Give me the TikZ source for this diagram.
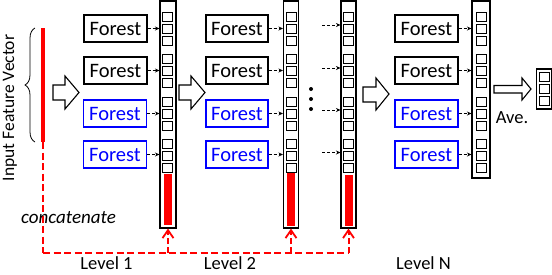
\documentclass[tikz,border=0pt]{standalone}
\usepackage{fontspec}
\setmainfont{Carlito}
\usetikzlibrary{arrows.meta,decorations.pathreplacing,calc}
\begin{document}
\begin{tikzpicture}[x=1pt,y=-1pt,
  forestbox/.style={draw, line width=1.1pt, minimum width=63pt, minimum height=27pt, inner sep=0pt, font=\fontsize{20.5}{22}\selectfont},
  bforest/.style={forestbox, draw=blue, text=blue},
  vecbox/.style={draw, line width=1.1pt, inner sep=0pt, fill=white},
  sq/.style={line width=1pt},
  darr/.style={dash pattern=on 3pt off 2pt, line width=0.8pt, -{Stealth[length=4.5pt,width=4pt]}},
  hollow/.style={draw, line width=1.1pt, fill=white, line join=miter},
  reddash/.style={red, line width=2.8pt, dash pattern=on 7pt off 3.5pt},
  redup/.style={red, line width=2pt, dash pattern=on 6pt off 3pt, -{Straight Barb[length=8pt,width=11pt,line width=1.8pt]}},
  lbl/.style={font=\fontsize{18.5}{20}\selectfont, anchor=base, inner sep=0pt}
]
\useasboundingbox (0,0) rectangle (552,274);

% input feature vector
\node[fill=red, minimum width=4pt, minimum height=114pt, inner sep=0pt] (inbar) at (43,85) {};
\draw[line width=0.8pt, decorate, decoration={brace, amplitude=10pt}] (35,142) -- (35,28);
\node[rotate=90, font=\fontsize{17.5}{20}\selectfont, inner sep=0pt] (ifv) at (10,108) {Input Feature Vector};

% hollow arrows
\draw[hollow] (53,85) -- (65,85) -- (65,76) -- (79,92.5) -- (65,109) -- (65,100) -- (53,100) -- cycle;
\draw[hollow] (179,85) -- (191,85) -- (191,76) -- (205,92.5) -- (191,109) -- (191,100) -- (179,100) -- cycle;
\draw[hollow] (363,87) -- (376,87) -- (376,78) -- (389,94) -- (376,110) -- (376,102) -- (363,102) -- cycle;
\draw[hollow] (494,85.5) -- (522,85.5) -- (522,78) -- (531,89) -- (522,100) -- (522,93) -- (494,93) -- cycle;

% forests level 1
\node[forestbox] (f11) at (115.5,28.5) {Forest};
\node[forestbox] (f12) at (115.5,70.5) {Forest};
\node[bforest] (f13) at (115,113.5) {Forest};
\node[bforest] (f14) at (115,154.5) {Forest};
% forests level 2
\node[forestbox, minimum width=62pt] (f21) at (237,28.5) {Forest};
\node[forestbox, minimum width=62pt] (f22) at (237,70.5) {Forest};
\node[bforest, minimum width=62pt] (f23) at (237,113.5) {Forest};
\node[bforest, minimum width=62pt] (f24) at (237,154.5) {Forest};
% forests level N
\node[forestbox] (fN1) at (426.5,28.5) {Forest};
\node[forestbox] (fN2) at (426.5,70.5) {Forest};
\node[bforest] (fN3) at (426.5,113.5) {Forest};
\node[bforest] (fN4) at (426.5,154.5) {Forest};

% class vectors
\node[vecbox, minimum width=16pt, minimum height=227pt] (v1) at (168,114.5) {};
\node[vecbox, minimum width=15pt, minimum height=227pt] (v2) at (291,114.5) {};
\node[vecbox, minimum width=15pt, minimum height=227pt] (v3) at (348.5,114.5) {};
\node[vecbox, minimum width=18pt, minimum height=177pt] (vN) at (481,89.5) {};
\node[vecbox, minimum width=15pt, minimum height=40pt] (vout) at (544,89) {};

\foreach \t in {12,24,36,54,66,78,97,109,121,139,151,163}{
  \draw[sq] (162.5,\t) rectangle ++(10,9.5);
  \draw[sq] (286,\t) rectangle ++(10,9.5);
  \draw[sq] (343.5,\t) rectangle ++(10,9.5);
  \draw[sq] (476,\t) rectangle ++(10.5,9.5);
}
\foreach \t in {72,84,96}{
  \draw[sq] (539.5,\t) rectangle ++(10,9.5);
}

% red bars (concatenated input)
\fill[red] (164,174) rectangle (172,225);
\fill[red] (287,173) rectangle (295,226);
\fill[red] (345,175) rectangle (353,226);

% dashed arrows forests -> vectors
\foreach \i in {1,2,3,4}{
  \draw[darr] (f1\i.east) -- (f1\i.east -| v1.west);
  \draw[darr] (f2\i.east) -- (f2\i.east -| v2.west);
  \draw[darr] (fN\i.east) -- (fN\i.east -| vN.west);
}
\coordinate (a1) at (322,25);
\coordinate (a2) at (322,68);
\coordinate (a3) at (322,110);
\coordinate (a4) at (322,152.5);
\foreach \i in {1,2,3,4}{
  \draw[darr] (a\i) -- (a\i -| v3.west);
}

% dots
\fill (311,89) circle (2pt);
\fill (311,99) circle (2pt);
\fill (311,109) circle (2pt);

% concatenate path
\coordinate (c0) at (43,253);
\draw[red, line width=2pt, dash pattern=on 7pt off 3.5pt] (inbar.south) -- (c0);
\draw[reddash] (c0) -- (c0 -| v3.south);
\draw[redup] (c0 -| v1.south) -- (v1.south);
\draw[redup] (c0 -| v2.south) -- (v2.south);
\draw[redup] (c0 -| v3.south) -- (v3.south);

% labels
\node[font=\itshape\fontsize{19}{21}\selectfont, anchor=base, inner sep=0pt] (cat) at (68.5,223) {concatenate};
\node[lbl] (l1) at (106.5,269.5) {Level 1};
\node[lbl] (l2) at (230,269.5) {Level 2};
\node[lbl] (lN) at (423.5,269.5) {Level N};
\node[font=\fontsize{18.5}{20}\selectfont, anchor=base, inner sep=0pt] (ave) at (512,123) {Ave.};
\end{tikzpicture}
\end{document}
